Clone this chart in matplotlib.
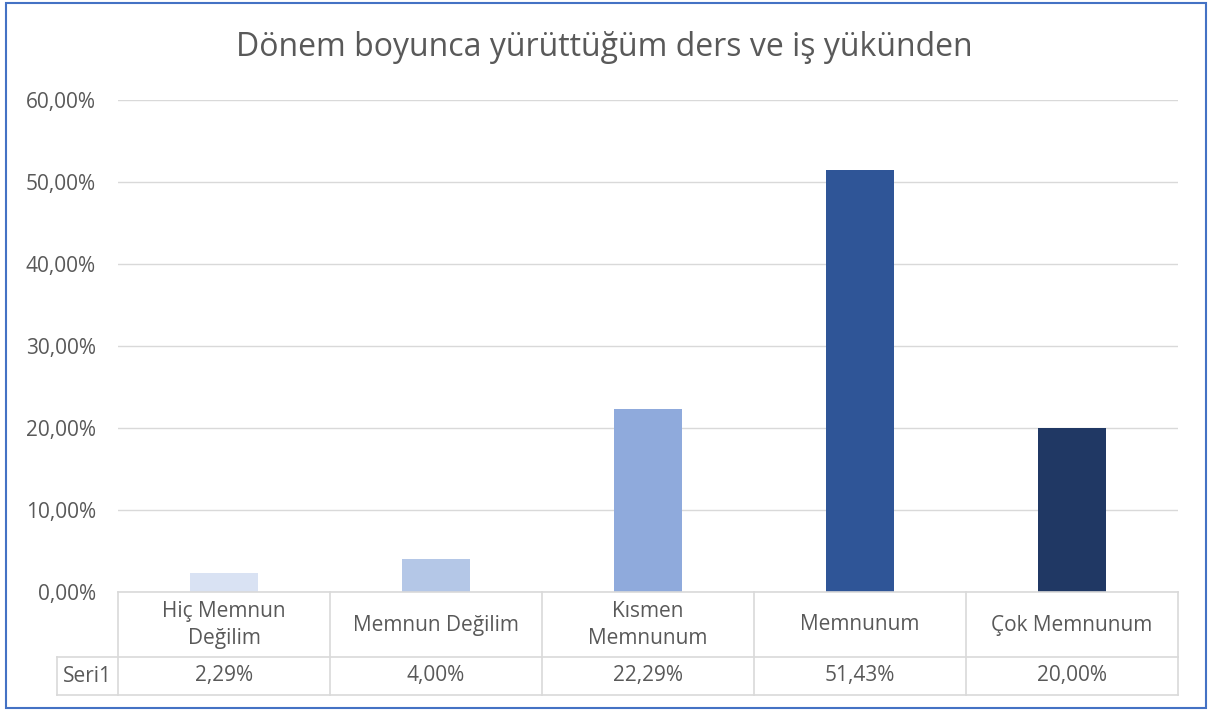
import matplotlib.pyplot as plt
from matplotlib.patches import Rectangle

plt.rcParams['font.family'] = ['Open Sans', 'DejaVu Sans']

# veriler
kategoriler = ["Hiç Memnun\nDeğilim", "Memnun Değilim", "Kısmen\nMemnunum", "Memnunum", "Çok Memnunum"]
degerler = [0.0229, 0.0400, 0.2229, 0.5143, 0.2000]
etiketler = ["2,29%", "4,00%", "22,29%", "51,43%", "20,00%"]
seri_adi = "Seri1"
renkler = ["#D9E2F3", "#B4C7E7", "#8FAADC", "#2F5597", "#203864"]
y_ticks = [0, 0.1, 0.2, 0.3, 0.4, 0.5, 0.6]

W, H = 1208, 711
fig = plt.figure(figsize=(W / 100, H / 100), dpi=100)
metin = "#595959"
cizgi = "#D9D9D9"
fs = 15

# dis cerceve
fig.patches.append(Rectangle((6 / W, 3 / H), 1200 / W, 705 / H, transform=fig.transFigure,
                             fill=False, edgecolor="#4472C4", linewidth=1.5))

# grafik alani
x0, x1 = 118, 1178
ax = fig.add_axes([x0 / W, (H - 592) / H, (x1 - x0) / W, (592 - 100) / H])
x = range(len(degerler))
ax.bar(x, degerler, width=0.32, color=renkler, zorder=3)
ax.set_xlim(-0.5, len(degerler) - 0.5)
ax.set_ylim(0, 0.6)
ax.set_yticks(y_ticks)
ax.set_yticklabels([("%.2f%%" % (v * 100)).replace(".", ",") for v in y_ticks], fontsize=fs, color=metin)
ax.set_xticks([])
ax.tick_params(axis='y', length=0, pad=16)
ax.grid(axis='y', color=cizgi, linewidth=1, zorder=0)
for s in ax.spines.values():
    s.set_visible(False)

fig.text(0.5, (H - 48) / H, "Dönem boyunca yürüttüğüm ders ve iş yükünden",
         ha='center', va='center', fontsize=23, color=metin)

# veri tablosu
tx = fig.add_axes([x0 / W, (H - 695) / H, (x1 - x0) / W, (695 - 592) / H])
tx.set_xlim(-0.5, len(degerler) - 0.5)
tx.set_ylim(0, 103)
tx.axis('off')
sol = -0.5 - 61 / 212
kw = dict(color=cizgi, linewidth=1.2, clip_on=False)
tx.plot([-0.5, 4.5], [103, 103], **kw)
tx.plot([sol, 4.5], [38, 38], **kw)
tx.plot([sol, 4.5], [0, 0], **kw)
tx.plot([sol, sol], [0, 38], **kw)
for i in range(len(degerler) + 1):
    tx.plot([i - 0.5, i - 0.5], [0, 103], **kw)
for i, (k, e) in enumerate(zip(kategoriler, etiketler)):
    tx.text(i, 70, k, ha='center', va='center', fontsize=fs, color=metin, linespacing=1.4)
    tx.text(i, 19, e, ha='center', va='center', fontsize=fs, color=metin)
tx.text((sol - 0.5) / 2, 19, seri_adi, ha='center', va='center', fontsize=fs, color=metin, clip_on=False)

fig.savefig("out.png", dpi=100)
